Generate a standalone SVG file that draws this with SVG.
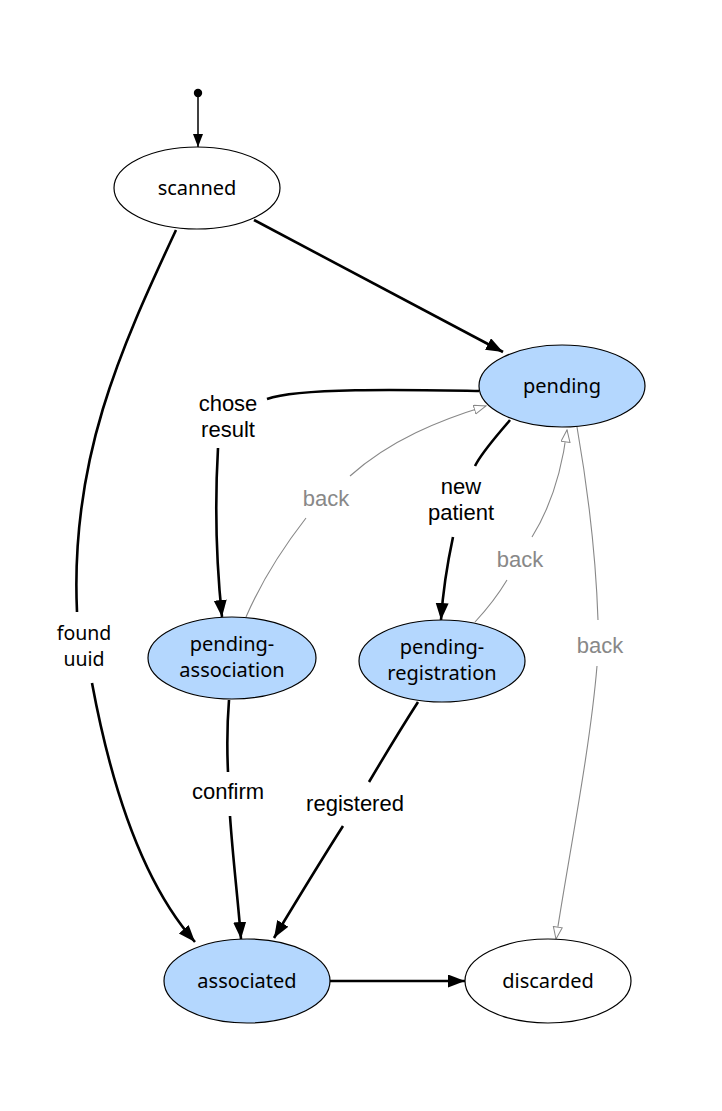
<svg xmlns="http://www.w3.org/2000/svg" width="722" height="1111" viewBox="0 0 722 1111">
<style>
.node ellipse{stroke:#000;stroke-width:1.2}
.white{fill:#fff}
.blue{fill:#b4d7fe}
.nt{font-family:"Noto Sans","DejaVu Sans",sans-serif;font-size:20px;fill:#000;text-anchor:middle}
.e{fill:none;stroke:#000;stroke-width:2.6}
.b{fill:none;stroke:#888;stroke-width:1.1}
.el{font-family:"Liberation Sans",Arial,sans-serif;font-size:22px;fill:#000;text-anchor:middle}
.bl{font-family:"Liberation Sans",Arial,sans-serif;font-size:22px;fill:#888;text-anchor:middle}
.fu{font-family:"Noto Sans","DejaVu Sans",sans-serif;font-size:19.5px;fill:#000;text-anchor:middle}
</style>
<defs>
<marker id="arr" markerUnits="userSpaceOnUse" markerWidth="18" markerHeight="14" refX="17" refY="6.5" orient="auto">
<path d="M0,0 L17,6.5 L0,13 z" fill="#000"/>
</marker>
<marker id="arrs" markerUnits="userSpaceOnUse" markerWidth="14" markerHeight="12" refX="13" refY="5" orient="auto">
<path d="M0,0 L13,5 L0,10 z" fill="#000"/>
</marker>
<marker id="hol" markerUnits="userSpaceOnUse" markerWidth="14" markerHeight="12" refX="12.5" refY="5" orient="auto">
<path d="M0.5,0.5 L12.5,5 L0.5,9.5 z" fill="#fff" stroke="#888" stroke-width="1"/>
</marker>
</defs>
<rect width="722" height="1111" fill="#fff"/>
<g id="connectors">
<circle cx="198" cy="93" r="4.2" fill="#000"/>
<path class="e" style="stroke-width:1.5" d="M198,97 L198,147" marker-end="url(#arrs)"/>
<path class="e" d="M254,220 L503,352" marker-end="url(#arr)"/>
<path class="e" d="M176,230 C120,350 70,460 77,612"/>
<path class="e" d="M92,683 C110,780 140,880 195,942" marker-end="url(#arr)"/>
<text class="fu" x="84" y="640">found</text>
<text class="fu" x="84" y="666">uuid</text>
<path class="e" d="M479,391 C420,390 300,387 267,399"/>
<path class="e" d="M218,448 C215,500 216,560 222,617" marker-end="url(#arr)"/>
<text class="el" x="228" y="411">chose</text>
<text class="el" x="228" y="437">result</text>
<path class="b" d="M246,617 C262,580 285,545 306,518"/>
<path class="b" d="M350,476 C390,440 440,420 486,406" marker-end="url(#hol)"/>
<text class="bl" x="326" y="506">back</text>
<path class="e" d="M510,420 C495,438 482,452 475,466"/>
<path class="e" d="M453,537 C447,565 443,590 441,620" marker-end="url(#arr)"/>
<text class="el" x="461" y="494">new</text>
<text class="el" x="461" y="520">patient</text>
<path class="b" d="M475,622 C488,608 498,595 507,580"/>
<path class="b" d="M532,537 C552,505 562,470 567,430" marker-end="url(#hol)"/>
<text class="bl" x="520" y="567">back</text>
<path class="b" d="M577,427 C588,490 596,560 598,620"/>
<path class="b" d="M597,666 C590,750 568,860 556,939" marker-end="url(#hol)"/>
<text class="bl" x="600" y="653">back</text>
<path class="e" d="M229,700 C227,725 227,750 228,772"/>
<path class="e" d="M230,816 C233,860 238,900 241,939" marker-end="url(#arr)"/>
<text class="el" x="228" y="799">confirm</text>
<path class="e" d="M418,702 C400,730 385,755 369,782"/>
<path class="e" d="M343,826 C320,862 297,900 274,938" marker-end="url(#arr)"/>
<text class="el" x="355" y="811">registered</text>
<path class="e" d="M330,981 L465,981" marker-end="url(#arr)"/>
</g>
<g id="scanned" class="node"><ellipse class="white" cx="197" cy="188" rx="83" ry="41"/><text class="nt" x="197" y="195">scanned</text></g>
<g id="pending" class="node"><ellipse class="blue" cx="562" cy="386" rx="83" ry="41"/><text class="nt" x="562" y="393">pending</text></g>
<g id="pending-association" class="node"><ellipse class="blue" cx="232" cy="658" rx="84" ry="41"/><text class="nt" x="232" y="651">pending-</text><text class="nt" x="232" y="677">association</text></g>
<g id="pending-registration" class="node"><ellipse class="blue" cx="442" cy="661" rx="83" ry="41"/><text class="nt" x="442" y="654">pending-</text><text class="nt" x="442" y="680">registration</text></g>
<g id="associated" class="node"><ellipse class="blue" cx="247" cy="981" rx="83" ry="42"/><text class="nt" x="247" y="988">associated</text></g>
<g id="discarded" class="node"><ellipse class="white" cx="548" cy="981" rx="83" ry="42"/><text class="nt" x="548" y="988">discarded</text></g>
</svg>
